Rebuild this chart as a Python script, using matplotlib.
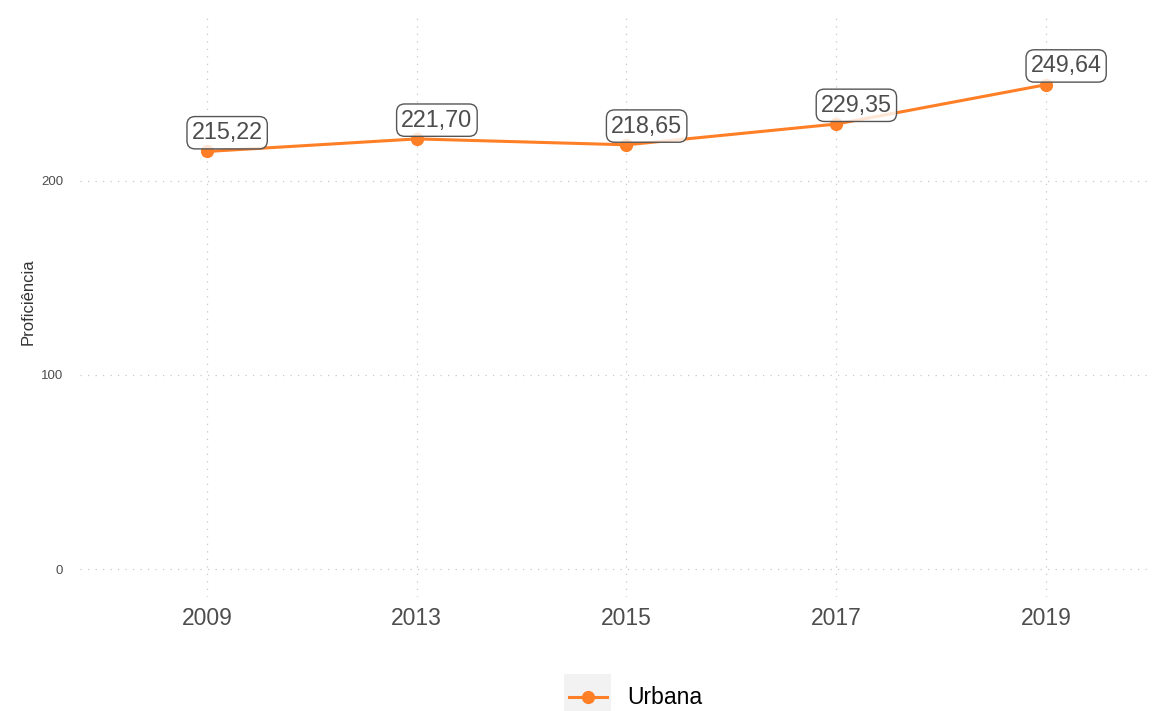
import matplotlib
matplotlib.use("Agg")
import matplotlib.pyplot as plt
from matplotlib.patches import Rectangle
from matplotlib.lines import Line2D

plt.rcParams['font.family'] = ['Liberation Sans', 'DejaVu Sans']

# ---------- data ----------
anos = ["2009", "2013", "2015", "2017", "2019"]
proficiencia = [215.22, 221.70, 218.65, 229.35, 249.64]
serie = "Urbana"
laranja = "#FF7F27"

W, H = 1157, 711
fig = plt.figure(figsize=(W / 100, H / 100), dpi=100)

# panel in pixel coords: x 80..1152, y 12..597
ax = fig.add_axes([80 / W, (H - 597) / H, (1152 - 80) / W, (597 - 12) / H])

x = list(range(1, len(anos) + 1))
ax.plot(x, proficiencia, color=laranja, lw=2.2, marker='o', ms=8.5, zorder=3)

# labels (shifted a bit right and above the points)
for xi, yi in zip(x, proficiencia):
    txt = "{:.2f}".format(yi).replace(".", ",")
    ax.annotate(txt, (xi, yi), xytext=(14.5, 13.5), textcoords='offset points',
                ha='center', va='center', fontsize=16.8, color='#4d4d4d', zorder=4,
                bbox=dict(boxstyle='round,pad=0.2,rounding_size=0.35', fc=(1, 1, 1, 0.8),
                          ec='#555555', lw=1.0))

# axes limits from the pixel geometry
px_unit = (1046 - 207) / 4.0
ax.set_xlim(1 - (207 - 80) / px_unit, 5 + (1152 - 1046) / px_unit)
ax.set_ylim(-(597 - 569) / 1.94, (569 - 12) / 1.94)

ax.set_xticks(x)
ax.set_xticklabels(anos)
ax.set_yticks([0, 100, 200])
ax.tick_params(axis='x', length=0, pad=7, labelsize=16.5, labelcolor='#4d4d4d')
ax.tick_params(axis='y', length=0, pad=12, labelsize=9.5, labelcolor='#4d4d4d')

for s in ax.spines.values():
    s.set_visible(False)
ax.grid(True, color='#c8c8c8', lw=0.9, linestyle=(0, (1, 5)))
ax.set_axisbelow(True)

fig.text(28 / W, 1 - 302 / H, "Proficiência", rotation=90, ha='center', va='center',
         fontsize=12, color='#333333')

# legend at the bottom (ggplot style key with grey background)
fig.patches.append(Rectangle((564 / W, (H - 721) / H), 47 / W, 47 / H,
                             transform=fig.transFigure, fc='#f2f2f2', ec='none'))
ly = (H - 697) / H
fig.lines.append(Line2D([569 / W, 607 / W], [ly, ly], transform=fig.transFigure,
                        color=laranja, lw=2.2))
fig.lines.append(Line2D([587.5 / W], [ly], transform=fig.transFigure, color=laranja,
                        marker='o', ms=8.5, lw=0))
fig.text(627 / W, ly, serie, ha='left', va='center', fontsize=16.5, color='black')

fig.savefig("out.png", dpi=100)
